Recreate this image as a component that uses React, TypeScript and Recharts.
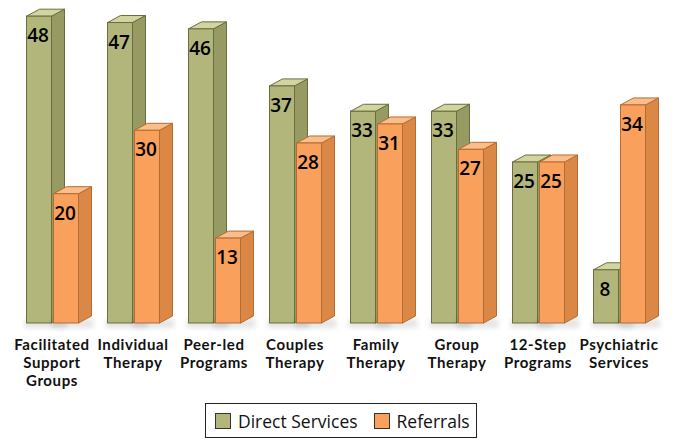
import React from "react";
import { BarChart, Bar, XAxis, YAxis, Legend, LabelList } from "recharts";

// Service categories and counts per series
const categories = [
  "Facilitated Support Groups",
  "Individual Therapy",
  "Peer-led Programs",
  "Couples Therapy",
  "Family Therapy",
  "Group Therapy",
  "12-Step Programs",
  "Psychiatric Services",
];
const directServices = [48, 47, 46, 37, 33, 33, 25, 8];
const referrals = [20, 30, 13, 28, 31, 27, 25, 34];
const seriesNames = ["Direct Services", "Referrals"];

const data = categories.map((name, i) => ({
  name,
  direct: directServices[i],
  referrals: referrals[i],
}));

type Palette = { front: string; side: string; top: string; edge: string };
const GREEN: Palette = { front: "#b2b67b", side: "#979b63", top: "#d2d5a0", edge: "#6a6e3e" };
const ORANGE: Palette = { front: "#f9a05c", side: "#db8746", top: "#fbbd89", edge: "#b56c33" };

const DX = 13;
const DY = 7;
const FOOT = 2.5;
const FONT = "'Open Sans', 'Noto Sans', sans-serif";
const TICK_FONT = "Lato, 'Open Sans', sans-serif";

function Box3D(props: any) {
  const { x, y, width, height, palette } = props;
  const p: Palette = palette;
  const x0 = x;
  const x1 = x + width;
  const t = y;
  const b = y + height + FOOT;
  return (
    <g>
      <rect
        x={x0 - 2}
        y={b - 4}
        width={width + DX + 4}
        height={9}
        fill="#000"
        opacity={0.1}
        filter="url(#floorBlur)"
      />
      <polygon
        points={`${x1},${t} ${x1 + DX},${t - DY} ${x1 + DX},${b - DY} ${x1},${b}`}
        fill={p.side}
        stroke={p.edge}
        strokeWidth={1}
        strokeLinejoin="round"
      />
      <polygon
        points={`${x0},${t} ${x0 + DX},${t - DY} ${x1 + DX},${t - DY} ${x1},${t}`}
        fill={p.top}
        stroke={p.edge}
        strokeWidth={1}
        strokeLinejoin="round"
      />
      <rect x={x0} y={t} width={width} height={b - t} fill={p.front} stroke={p.edge} strokeWidth={1} />
    </g>
  );
}

function ValueLabel(props: any) {
  const { x, y, width, value } = props;
  return (
    <text
      x={x + width / 2 - 1}
      y={y + 19}
      textAnchor="middle"
      dominantBaseline="central"
      fontFamily={FONT}
      fontWeight={600}
      fontSize={19}
      fill="#000"
    >
      {value}
    </text>
  );
}

// Category names wrap one word per line, each line its own text element
function CategoryTick(props: any) {
  const { x, y, payload } = props;
  const words = String(payload.value).split(" ");
  return (
    <g>
      {words.map((w, i) => (
        <text
          key={i}
          x={x}
          y={y + 21.5 + i * 18}
          textAnchor="middle"
          fontFamily={TICK_FONT}
          fontWeight={700}
          fontSize={15}
          letterSpacing={0.6}
          fill="#111"
        >
          {w}
        </text>
      ))}
    </g>
  );
}

function LegendBox() {
  const item = (color: string, edge: string, label: string, gap: number) => (
    <span style={{ display: "inline-flex", alignItems: "center", marginRight: gap }}>
      <span
        style={{
          display: "inline-block",
          width: 14,
          height: 14,
          background: color,
          border: `1px solid ${edge}`,
          marginRight: 7,
        }}
      />
      <span>{label}</span>
    </span>
  );
  return (
    <div
      style={{
        boxSizing: "border-box",
        width: 272,
        height: 35,
        border: "1px solid #222",
        display: "flex",
        alignItems: "center",
        paddingLeft: 9,
        fontFamily: FONT,
        fontSize: 17.5,
        color: "#111",
        background: "#fff",
        whiteSpace: "nowrap",
      }}
    >
      {item(GREEN.front, "#333", seriesNames[0], 16)}
      {item(ORANGE.front, "#333", seriesNames[1], 0)}
    </div>
  );
}

export default function App() {
  return (
    <div style={{ position: "absolute", left: 0, top: 0, width: 678, height: 439, background: "#fff" }}>
      <BarChart
        width={678}
        height={439}
        data={data}
        margin={{ top: 3.5, right: 18.5, left: 11.5, bottom: 38.5 }}
        barSize={25}
        barGap={2}
      >
        <defs>
          <filter id="floorBlur" x="-50%" y="-100%" width="200%" height="300%">
            <feGaussianBlur stdDeviation="2.5" />
          </filter>
        </defs>
        <XAxis
          dataKey="name"
          axisLine={false}
          tickLine={false}
          interval={0}
          height={80}
          tick={<CategoryTick />}
        />
        <YAxis hide domain={[0, 50]} />
        <Legend
          layout="horizontal"
          verticalAlign="middle"
          align="center"
          wrapperStyle={{ position: "absolute", left: 205, top: 403, width: 272, height: 35 }}
          content={() => <LegendBox />}
        />
        <Bar
          dataKey="direct"
          name={seriesNames[0]}
          fill={GREEN.front}
          isAnimationActive={false}
          shape={(p: any) => <Box3D {...p} palette={GREEN} />}
        >
          <LabelList dataKey="direct" content={<ValueLabel />} />
        </Bar>
        <Bar
          dataKey="referrals"
          name={seriesNames[1]}
          fill={ORANGE.front}
          isAnimationActive={false}
          shape={(p: any) => <Box3D {...p} palette={ORANGE} />}
        >
          <LabelList dataKey="referrals" content={<ValueLabel />} />
        </Bar>
      </BarChart>
    </div>
  );
}
